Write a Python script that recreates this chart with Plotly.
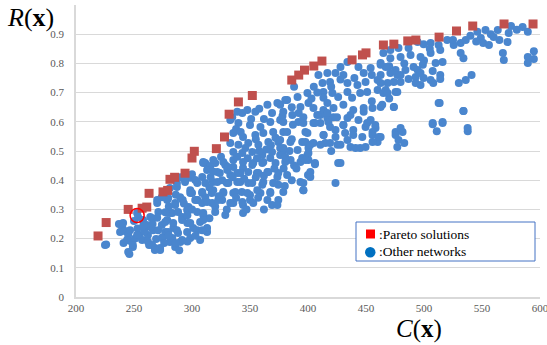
import plotly.graph_objects as go

# Pareto solutions (cost C(x), reliability R(x))
pareto_c = [219, 226, 245, 257, 261, 263, 275, 279, 281, 285, 294, 300, 302, 321, 328, 332, 340, 352,
            386, 392, 397, 405, 412, 438, 447, 450, 465, 474, 486, 493, 513, 528, 542, 569, 594]
pareto_r = [0.209, 0.255, 0.300, 0.304, 0.308, 0.355, 0.360, 0.365, 0.403, 0.410, 0.424, 0.476, 0.499,
            0.508, 0.548, 0.626, 0.668, 0.690, 0.743, 0.760, 0.777, 0.791, 0.808, 0.812, 0.829, 0.836,
            0.863, 0.866, 0.877, 0.880, 0.890, 0.911, 0.928, 0.935, 0.935]

# Other networks
other_pts = [
    # low-cost cluster
    (226, 0.180), (237, 0.250), (240, 0.236), (242, 0.226), (241, 0.185), (245, 0.212), (246, 0.147),
    (247, 0.192), (249, 0.171), (251, 0.200), (253, 0.235), (255, 0.212), (257, 0.195), (261, 0.247),
    (263, 0.178), (265.6, 0.270), (266.5, 0.229), (268, 0.168), (269, 0.199), (270, 0.332), (271, 0.291),
    (272.5, 0.161), (274, 0.247), (275, 0.205), (277, 0.223), (278.6, 0.264), (279.5, 0.339), (281, 0.188),
    (283, 0.288), (284, 0.236), (285.5, 0.322), (287, 0.377), (288, 0.219), (290, 0.188), (291.5, 0.274),
    (292, 0.332), (294, 0.394), (296, 0.253), (297, 0.308), (298.5, 0.408), (300, 0.356), (301, 0.236),
    (304.5, 0.332),
    (278.6, 0.332), (285.5, 0.315), (289.8, 0.342), (298.5, 0.356), (304.5, 0.332), (311.4, 0.342),
    (281, 0.288), (288, 0.291), (295.8, 0.298), (304.5, 0.291), (309.7, 0.281), (270, 0.271),
    (276.9, 0.257), (283.8, 0.253), (291.5, 0.264), (298.5, 0.253), (307, 0.257), (264, 0.240),
    (270.8, 0.229), (279.5, 0.223), (287, 0.229), (295.8, 0.223), (304.5, 0.229), (313, 0.223),
    (262, 0.212), (274, 0.202), (283, 0.202), (291.5, 0.195), (298.5, 0.202), (307, 0.195),
    (265.6, 0.178), (272.5, 0.168), (285.5, 0.171), (268, 0.161), (270, 0.322), (274, 0.342),
    (281, 0.373), (287, 0.390), (294, 0.401), (304.5, 0.390), (308.8, 0.411), (311.4, 0.459),
    (252.7, 0.288), (253.5, 0.274), (240.6, 0.253), (238, 0.223), (246.6, 0.229), (244, 0.195),
    (252.7, 0.212), (249, 0.178), (245, 0.154), (225, 0.178), (257.8, 0.264), (264, 0.274),
    (289, 0.160), (286, 0.185), (276, 0.185), (259, 0.225),
    (280, 0.310), (293, 0.320), (300, 0.300), (286, 0.350), (296, 0.280), (277, 0.290),
    (266, 0.250), (258, 0.245), (250, 0.260), (262, 0.190), (280, 0.210), (296, 0.190),
    (303, 0.210), (315, 0.270), (320, 0.310), (330, 0.300), (300, 0.420), (290, 0.410),
    # middle band 300-385
    (309.7, 0.459), (315.7, 0.449), (320, 0.459), (328.7, 0.452), (335.6, 0.445), (344, 0.442),
    (352, 0.452), (360.6, 0.459), (367.5, 0.476), (376, 0.486), (385, 0.469), (393.5, 0.462),
    (399.5, 0.486), (406, 0.455), (324, 0.425), (333, 0.418), (341.6, 0.425), (356, 0.425),
    (365, 0.428), (373.6, 0.411), (382, 0.418), (400, 0.418), (318, 0.394), (330, 0.390),
    (339, 0.394), (348.5, 0.390), (360.6, 0.384), (374.4, 0.384), (393.5, 0.394), (396, 0.366),
    (308.8, 0.356), (317, 0.356), (327, 0.360), (335.6, 0.356), (343, 0.360), (350, 0.349),
    (359, 0.356), (367.5, 0.360), (374.4, 0.332), (308.8, 0.322), (317.4, 0.322), (326, 0.332),
    (335.6, 0.322), (344, 0.315), (350, 0.332), (369, 0.315), (309.7, 0.288), (320, 0.291),
    (328.7, 0.281), (344, 0.288), (309.7, 0.264), (313, 0.236), (308.8, 0.229),
    (347.7, 0.640), (354.6, 0.634), (365, 0.658), (373.6, 0.664), (380.4, 0.675), (339, 0.634),
    (333, 0.606), (340, 0.596), (350, 0.589), (359, 0.582), (367.5, 0.599), (376, 0.606),
    (335.6, 0.562), (344, 0.548), (354.6, 0.555), (361.5, 0.562), (370, 0.565), (378.7, 0.565),
    (333, 0.527), (340, 0.521), (348.5, 0.527), (357.2, 0.521), (365.8, 0.531), (374.4, 0.531),
    (335.6, 0.497), (343.4, 0.493), (352, 0.497), (360.6, 0.486), (369, 0.497), (378, 0.493),
    (309.7, 0.462), (318.3, 0.469), (327, 0.462), (335.6, 0.469), (344, 0.462), (352.8, 0.459),
    (361.5, 0.462), (372, 0.459), (380.4, 0.462), (313, 0.435), (321.8, 0.428), (330.4, 0.435),
    (339, 0.425), (348.5, 0.428), (357.2, 0.425), (365.8, 0.428), (374.4, 0.425), (302.8, 0.401),
    (311.4, 0.390), (321.8, 0.394), (331.3, 0.390), (341.6, 0.394), (352, 0.390), (361.5, 0.394),
    (370, 0.390), (298.5, 0.366), (308.8, 0.360), (318.3, 0.366), (327, 0.356), (337.3, 0.360),
    (347.7, 0.356), (356.3, 0.366), (367.5, 0.356), (378.7, 0.360), (302.8, 0.332), (313, 0.325),
    (322.6, 0.332), (333, 0.322), (343.4, 0.325), (352.8, 0.322), (365, 0.332), (373.6, 0.315),
    (334.7, 0.616), (343.4, 0.630), (325, 0.480), (316, 0.410), (355, 0.540), (362, 0.610),
    (338, 0.575), (346, 0.510), (364, 0.505), (372, 0.545), (356, 0.475), (331, 0.445),
    (318, 0.430), (326, 0.400), (335, 0.410), (345, 0.405), (355, 0.410), (362, 0.415),
    (371, 0.440), (379, 0.440), (388, 0.450), (315, 0.375), (323, 0.345), (338, 0.340),
    (347, 0.300), (357, 0.340), (362, 0.300), (380, 0.380), (386, 0.400), (339, 0.480),
    (348, 0.475), (358, 0.500), (368, 0.520), (376, 0.510), (384, 0.500), (342, 0.565),
    (351, 0.610), (358, 0.645), (369, 0.630), (378, 0.620), (386, 0.650), (392, 0.630),
    # upper-middle band 375-480
    (409, 0.760), (416.7, 0.767), (423.7, 0.767), (430.5, 0.760), (428, 0.788), (434, 0.805),
    (443.5, 0.788), (448, 0.767), (454, 0.784), (462.6, 0.795), (477, 0.760), (449.6, 0.736),
    (460, 0.743), (468.6, 0.733), (412.5, 0.733), (419, 0.736), (434, 0.733), (442.6, 0.726),
    (399.5, 0.699), (391, 0.685), (382, 0.675), (376, 0.658), (413.3, 0.702), (413.3, 0.682),
    (416.7, 0.664), (421, 0.699), (426, 0.685), (434, 0.702), (438, 0.682), (445, 0.699),
    (451, 0.702), (460, 0.709), (465, 0.699), (475.5, 0.702), (393.5, 0.651), (400.4, 0.664),
    (404.7, 0.647), (413.3, 0.640), (422, 0.647), (430.5, 0.658), (439, 0.640), (448, 0.647),
    (455.6, 0.647), (462.6, 0.651), (474, 0.651), (378.7, 0.634), (386.5, 0.623), (396, 0.616),
    (410.7, 0.623), (416.7, 0.613), (422, 0.616), (434, 0.613), (443.5, 0.606), (454, 0.606),
    (378.7, 0.599), (391.7, 0.599), (404.7, 0.596), (410.7, 0.596), (419, 0.582), (430.5, 0.589),
    (439, 0.572), (449.6, 0.582), (458.2, 0.579), (382, 0.565), (397.8, 0.565), (413.3, 0.555),
    (423.7, 0.548), (432, 0.562), (446.8, 0.548), (455.6, 0.555), (462.6, 0.548), (376, 0.538),
    (384.8, 0.531), (395, 0.531), (404.7, 0.527), (415, 0.527), (425.4, 0.521), (436.6, 0.514),
    (445, 0.510), (460, 0.531), (475.5, 0.565), (478, 0.538), (378.7, 0.510), (391, 0.503),
    (400.4, 0.510), (380.4, 0.479), (395, 0.476), (400.4, 0.469), (426, 0.459),
    (408, 0.623), (416.7, 0.630), (425, 0.616), (436.6, 0.623), (448, 0.634), (396, 0.596),
    (406, 0.596), (417.6, 0.599), (430.5, 0.589), (451, 0.596), (458, 0.589), (399.5, 0.562),
    (413.5, 0.555), (423.7, 0.572), (439, 0.555), (455.6, 0.565), (461, 0.548), (475.5, 0.555),
    (397.8, 0.531), (402, 0.521), (410.7, 0.521), (419, 0.527), (428, 0.521), (434, 0.538),
    (441, 0.510), (449.6, 0.514), (455.6, 0.531), (477, 0.514), (400.4, 0.493), (397.8, 0.469),
    (406, 0.459), (428, 0.459), (402, 0.428), (402, 0.411), (423.7, 0.390), (396, 0.390),
    (396, 0.366), (388, 0.720), (405, 0.720), (428, 0.745), (470, 0.680), (455, 0.670),
    (387, 0.590), (420, 0.500), (390, 0.440), (386, 0.540),
    (403, 0.680), (408, 0.700), (420, 0.720), (440, 0.750), (455, 0.760), (470, 0.790),
    (483, 0.800), (500, 0.810),
    # high-cost band 460-600
    (513.5, 0.664), (534, 0.637), (507.5, 0.592), (516, 0.596), (511, 0.568), (537.7, 0.568),
    (481.5, 0.565), (483, 0.527),
    (546, 0.908), (553, 0.914), (557.6, 0.900), (563.6, 0.914), (575, 0.928), (585, 0.925),
    (589.5, 0.908), (573, 0.904), (560, 0.890), (549, 0.887), (551, 0.870), (556, 0.863),
    (572, 0.873), (531.6, 0.870), (536, 0.880), (525.6, 0.863), (512.6, 0.863), (505.7, 0.870),
    (499.7, 0.866), (494.5, 0.873), (486.7, 0.853), (478, 0.853), (471, 0.846), (465, 0.836),
    (471, 0.818), (479.8, 0.822), (488.4, 0.829), (497, 0.822), (505.7, 0.836), (514, 0.846),
    (516, 0.805), (510, 0.801), (499, 0.795), (491, 0.788), (494.5, 0.777), (484, 0.777),
    (475.5, 0.777), (467, 0.788), (531.6, 0.836), (534, 0.818), (568, 0.836), (568.8, 0.812),
    (589.5, 0.822), (594.7, 0.842), (594.7, 0.815), (471, 0.767), (479.8, 0.760), (474, 0.736),
    (479.8, 0.736), (486.7, 0.747), (492.8, 0.753), (497, 0.767), (507.5, 0.774), (514, 0.760),
    (499.7, 0.750), (505.7, 0.743), (492.8, 0.733), (497, 0.726), (508, 0.733), (514, 0.747),
    (462.6, 0.733), (467, 0.709), (468.6, 0.699), (477, 0.702), (530, 0.733), (536, 0.743),
    (541, 0.760), (512.6, 0.664), (534, 0.637), (464, 0.658), (474, 0.651), (479.8, 0.579),
    (507.5, 0.596), (516, 0.599), (537.6, 0.579), (589.5, 0.801), (462.6, 0.801), (462.6, 0.760),
    (520, 0.880), (540, 0.895), (565, 0.880), (580, 0.915), (505, 0.850), (525, 0.880),
    (545, 0.875),
]
other_c = [p[0] for p in other_pts]
other_r = [p[1] for p in other_pts]

# highlighted network (open red circle)
mark_c = [252.7]
mark_r = [0.279]

x_ticks = [200, 250, 300, 350, 400, 450, 500, 550, 600]
y_ticks = [0, 0.1, 0.2, 0.3, 0.4, 0.5, 0.6, 0.7, 0.8, 0.9, 1]
y_tick_text = ["0", "0.1", "0.2", "0.3", "0.4", "0.5", "0.6", "0.7", "0.8", "0.9", "1"]

legend_labels = [":Pareto solutions", ":Other networks"]

serif = "Liberation Serif"

# plot-area pixel geometry (for placing the hand-made legend box)
L, T, W, H = 76, 5, 464, 292


def px(xp):
    return (xp - L) / W


def py(yp):
    return (T + H - yp) / H


fig = go.Figure()
fig.add_trace(go.Scatter(x=other_c, y=other_r, mode="markers", name="Other networks", showlegend=False,
                         marker=dict(symbol="circle", size=8, color="#4A86CE", line=dict(width=0))))
fig.add_trace(go.Scatter(x=pareto_c, y=pareto_r, mode="markers", name="Pareto solutions", showlegend=False,
                         marker=dict(symbol="square", size=9, color="#C0504D", line=dict(width=0))))
fig.add_trace(go.Scatter(x=mark_c, y=mark_r, mode="markers", showlegend=False,
                         marker=dict(symbol="circle-open", size=14, color="#FF0000", line=dict(width=1.5))))

shapes = [
    # legend frame
    dict(type="rect", xref="paper", yref="paper", x0=px(356), x1=px(535), y0=py(261), y1=py(222),
         line=dict(color="#4472C4", width=1), fillcolor="white", layer="above"),
    # legend swatches
    dict(type="rect", xref="paper", yref="paper", x0=px(366), x1=px(375), y0=py(238.5), y1=py(229.5),
         line=dict(width=0), fillcolor="#FF0000", layer="above"),
    dict(type="circle", xref="paper", yref="paper", x0=px(365), x1=px(375.5), y0=py(257.5), y1=py(247),
         line=dict(width=0), fillcolor="#0070C0", layer="above"),
]

annotations = [
    dict(text=legend_labels[0], xref="paper", yref="paper", x=px(377), y=py(234), xanchor="left",
         yanchor="middle", showarrow=False, font=dict(family=serif, size=13.5, color="black")),
    dict(text=legend_labels[1], xref="paper", yref="paper", x=px(377), y=py(252), xanchor="left",
         yanchor="middle", showarrow=False, font=dict(family=serif, size=13.5, color="black")),
    dict(text="<i>R</i>(<b>x</b>)", xref="paper", yref="paper", x=px(30), y=py(17),
         xanchor="center", yanchor="middle", showarrow=False,
         font=dict(family=serif, size=26, color="black")),
    dict(text="<i>C</i>(<b>x</b>)", xref="paper", yref="paper", x=px(419), y=py(329),
         xanchor="center", yanchor="middle", showarrow=False,
         font=dict(family=serif, size=25, color="black")),
]

fig.update_layout(
    width=547, height=345,
    margin=dict(l=76, r=7, t=5, b=48, autoexpand=False),
    paper_bgcolor="white", plot_bgcolor="white",
    font=dict(family=serif, size=11, color="#595959"),
    xaxis=dict(range=[200, 600], tickvals=x_ticks, showgrid=False, zeroline=False,
               showline=True, linecolor="#D9D9D9", linewidth=1.5, ticks="", ticklen=0,
               ticklabeloverflow="allow", ticklabelstandoff=0, automargin=False,
               tickfont=dict(family=serif, size=11, color="#595959")),
    yaxis=dict(range=[0, 1], tickvals=y_ticks, ticktext=y_tick_text, showgrid=True,
               gridcolor="#D9D9D9", gridwidth=1, zeroline=False, showline=True,
               linecolor="#D9D9D9", linewidth=1.5, ticks="", ticklabelstandoff=8, automargin=False,
               tickfont=dict(family=serif, size=11, color="#595959")),
    showlegend=False,
    hovermode=False,
    shapes=shapes,
    annotations=annotations,
)
fig.write_html("out.html", config={"displayModeBar": False},
               post_script="document.body.style.margin='0';")
